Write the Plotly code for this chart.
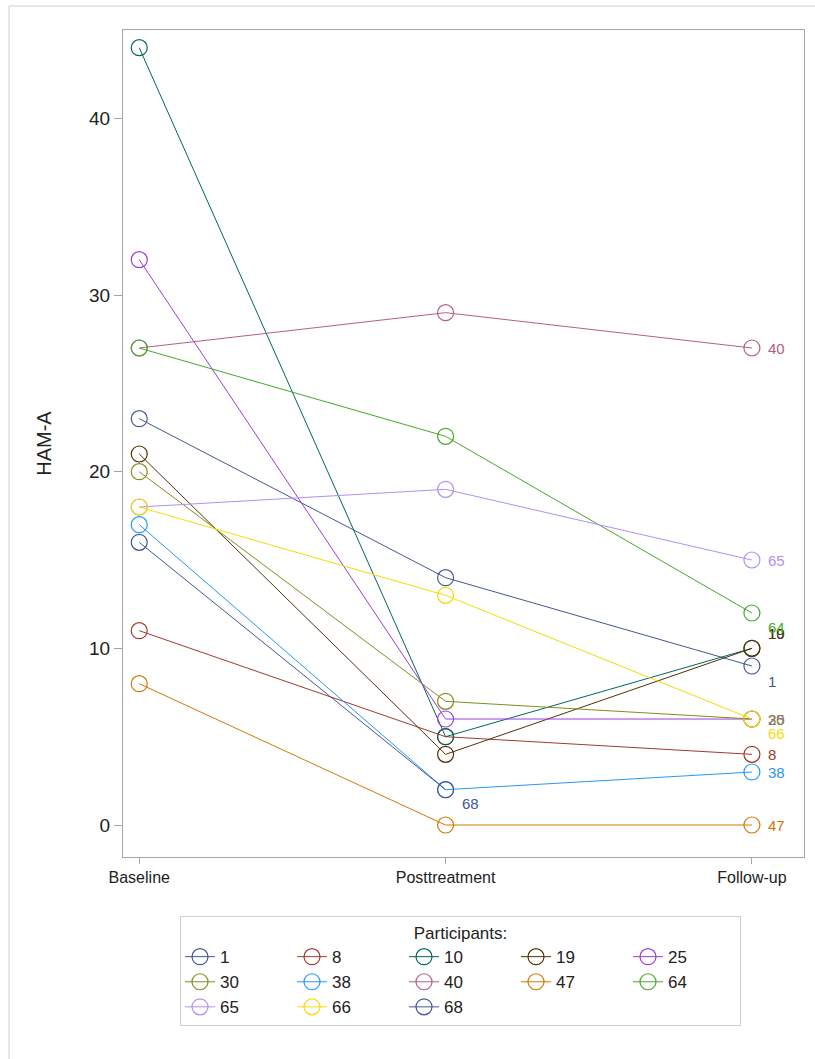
import plotly.graph_objects as go

# ---- data ----
timepoints = ["Baseline", "Posttreatment", "Follow-up"]
participants = ["1", "8", "10", "19", "25", "30", "38", "40", "47", "64", "65", "66", "68"]
baseline = [23, 11, 44, 21, 32, 20, 17, 27, 8, 27, 18, 18, 16]
posttreatment = [14, 5, 5, 4, 6, 7, 2, 29, 0, 22, 19, 13, 2]
followup = [9, 4, 10, 10, 6, 6, 3, 27, 0, 12, 15, 6, None]
y_ticks = [0, 10, 20, 30, 40]

# ---- styles ----
colors = ["#445694", "#A23A2E", "#01665E", "#543005", "#9D3CDB", "#7F8E1F",
          "#2597FA", "#B26084", "#D17800", "#47A82A", "#B38EF3", "#F9DA04", "#445694"]
# pixel offsets of end labels (xshift, yshift)
label_shift = {"64": (14, -14), "10": (14, 15), "19": (14, 15), "1": (14, -15),
               "66": (14, -14), "68": (14, -14)}
FONT = "Liberation Sans, Arial, sans-serif"

fig = go.Figure()
annotations = []
for i, p in enumerate(participants):
    ys = [baseline[i], posttreatment[i], followup[i]]
    fig.add_trace(go.Scatter(
        x=timepoints, y=ys, mode="lines+markers", name=p,
        legendgroup=f"col{i % 5}",
        line=dict(color=colors[i], width=1),
        marker=dict(symbol="circle-open", size=16, color=colors[i], line=dict(width=1.2)),
        connectgaps=False,
    ))
    last = max(k for k, v in enumerate(ys) if v is not None)
    dx, dy = label_shift.get(p, (14, 0))
    annotations.append(dict(
        x=timepoints[last], y=ys[last], xref="x", yref="y", text=p,
        showarrow=False, xanchor="left", yanchor="middle", xshift=dx, yshift=dy,
        font=dict(family=FONT, size=15, color=colors[i]),
    ))

W, H = 815, 1059
L, R, T, B = 123, 11, 30, 202
pw, ph = W - L - R, H - T - B

shapes = [dict(type="rect", xref="paper", yref="paper",
               x0=(9 - L) / pw, x1=(W + 20 - L) / pw,
               y0=(H - B - (H + 20)) / ph, y1=(H - B - 6) / ph,
               line=dict(color="#d0d0d0", width=1), fillcolor="rgba(0,0,0,0)", layer="below")]

fig.update_layout(
    width=W, height=H,
    margin=dict(l=L, r=R, t=T, b=B, autoexpand=False),
    paper_bgcolor="white", plot_bgcolor="white",
    font=dict(family=FONT, color="#222"),
    annotations=annotations,
    shapes=shapes,
    showlegend=True,
    legend=dict(
        orientation="h", traceorder="grouped", tracegroupgap=0,
        x=(180 - L) / pw, xanchor="left", y=(H - B - 916) / ph, yanchor="top",
        entrywidth=67, entrywidthmode="pixels",
        bgcolor="white", bordercolor="#cfcfcf", borderwidth=1,
        font=dict(family=FONT, size=17, color="#222"),
        title=dict(text="Participants:", side="top center", font=dict(family=FONT, size=17)),
        itemclick=False, itemdoubleclick=False,
    ),
)
fig.update_xaxes(
    type="category", range=[-0.053, 2.17], showgrid=False, zeroline=False,
    showline=True, mirror=True, linecolor="#a6a6a6", linewidth=1,
    ticks="outside", ticklen=6, tickcolor="#a6a6a6",
    tickfont=dict(family=FONT, size=16, color="#222"), automargin=False,
)
fig.update_yaxes(
    range=[-1.81, 45.0], tickvals=y_ticks, showgrid=False, zeroline=False,
    showline=True, mirror=True, linecolor="#a6a6a6", linewidth=1,
    ticks="outside", ticklen=8, tickcolor="#a6a6a6",
    tickfont=dict(family=FONT, size=19, color="#222"),
    title=dict(text="HAM-A", font=dict(family=FONT, size=20, color="#222"), standoff=32),
    automargin=False,
)

fig.write_html("out.html", config={"displayModeBar": False},
               post_script="document.body.style.margin='0';document.body.style.overflow='hidden';")
